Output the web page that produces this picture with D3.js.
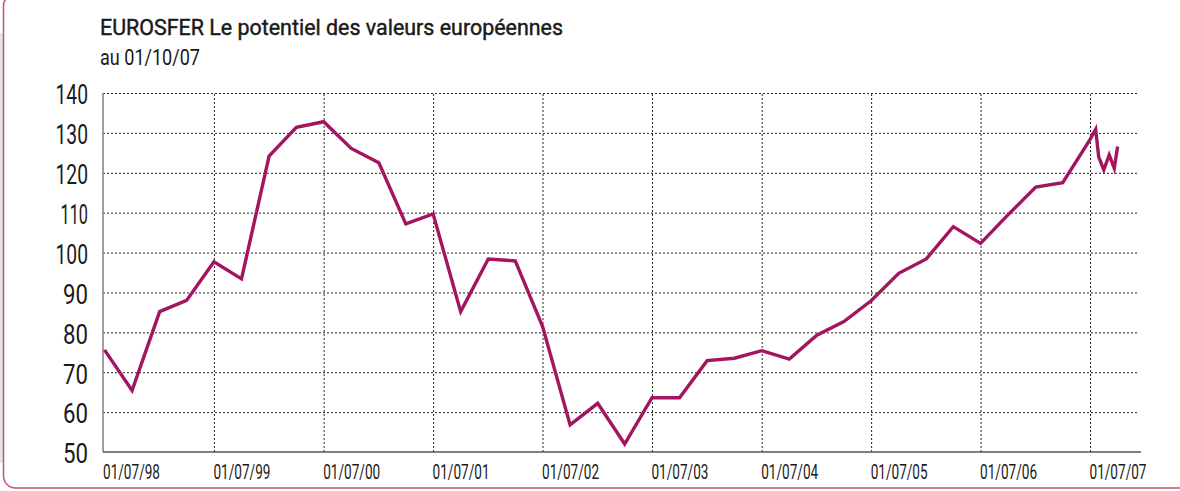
<!DOCTYPE html>
<html>
<head>
<meta charset="utf-8">
<script src="https://cdn.jsdelivr.net/npm/d3@7"></script>
<style>
  html, body { margin: 0; padding: 0; background: #fff; }
  svg { display: block; }
  .cond { font-family: Roboto, "DejaVu Sans Condensed", sans-serif; }
</style>
</head>
<body>
<svg id="chart" width="1180" height="491"></svg>
<script>
// quarterly values, then the tighter points of summer 2007
const dates = [
  "1998-07-01", "1998-10-01", "1999-01-01", "1999-04-01",
  "1999-07-01", "1999-10-01", "2000-01-01", "2000-04-01",
  "2000-07-01", "2000-10-01", "2001-01-01", "2001-04-01",
  "2001-07-01", "2001-10-01", "2002-01-01", "2002-04-01",
  "2002-07-01", "2002-10-01", "2003-01-01", "2003-04-01",
  "2003-07-01", "2003-10-01", "2004-01-01", "2004-04-01",
  "2004-07-01", "2004-10-01", "2005-01-01", "2005-04-01",
  "2005-07-01", "2005-10-01", "2006-01-01", "2006-04-01",
  "2006-07-01", "2006-10-01", "2007-01-01", "2007-04-01",
  "2007-07-01", "2007-07-20", "2007-07-30", "2007-08-16",
  "2007-09-03", "2007-09-20", "2007-10-01"
];
const values = [
  75.6, 65.4, 85.2, 88.0,
  97.7, 93.4, 124.2, 131.4,
  132.8, 126.1, 122.5, 107.2,
  109.7, 85.2, 98.4, 97.9,
  81.5, 56.8, 62.2, 52.0,
  63.6, 63.6, 72.9, 73.5,
  75.4, 73.3, 79.3, 82.7,
  87.9, 94.8, 98.4, 106.5,
  102.3, 109.5, 116.4, 117.5,
  128.3, 130.9, 124.0, 120.7,
  124.5, 121.1, 126.6
];
const yTicks = [50, 60, 70, 80, 90, 100, 110, 120, 130, 140];
const xTicks = ["1998-07-01", "1999-07-01", "2000-07-01", "2001-07-01", "2002-07-01",
                "2003-07-01", "2004-07-01", "2005-07-01", "2006-07-01", "2007-07-01"];
const title = "EUROSFER Le potentiel des valeurs européennes";
const subtitle = "au 01/10/07";

const parse = d3.timeParse("%Y-%m-%d");
const fmt = d3.timeFormat("%d/%m/%y");
const data = dates.map((d, i) => ({ date: parse(d), value: values[i] }));

const svg = d3.select("#chart");
const plotLeft = 103, plotRight = 1138, plotTop = 93, plotBottom = 452;

const x = d3.scaleTime()
  .domain([parse("1998-07-01"), parse("2007-07-01")])
  .range([104.5, 1090]);
const y = d3.scaleLinear().domain([50, 140]).range([plotBottom, plotTop]);

// narrow face: the "1" is thinner than the other digits
const numWidth = s => d3.sum(s.split(""), c => c === "1" ? 7.5 : 12.5);

// frame on the left
svg.append("rect")
  .attr("x", 0).attr("y", 33).attr("width", 3).attr("height", 430)
  .attr("fill", "#e4e3ea");
svg.append("rect")
  .attr("x", 3.5).attr("y", -6).attr("width", 1300).attr("height", 494)
  .attr("rx", 12).attr("fill", "none")
  .attr("stroke", "#c8507a").attr("stroke-width", 1.5);

// titles
svg.append("text").attr("class", "cond")
  .attr("x", 100).attr("y", 35)
  .attr("font-size", 22.5).attr("fill", "#1a1a1a")
  .attr("stroke", "#1a1a1a").attr("stroke-width", 0.45)
  .attr("textLength", 463).attr("lengthAdjust", "spacingAndGlyphs")
  .text(title);
svg.append("text").attr("class", "cond")
  .attr("x", 100).attr("y", 65)
  .attr("font-size", 22).attr("fill", "#1a1a1a")
  .attr("textLength", 100).attr("lengthAdjust", "spacingAndGlyphs")
  .text(subtitle);

// horizontal grid
const yGrid = svg.append("g")
  .attr("transform", `translate(${plotLeft},0)`)
  .call(d3.axisLeft(y).tickValues(yTicks.filter(v => v > 50))
    .tickSize(-(plotRight - plotLeft)).tickFormat(""));
yGrid.select(".domain").remove();
yGrid.selectAll(".tick line")
  .attr("stroke", "#222").attr("stroke-width", 1).attr("stroke-dasharray", "2,2");

// vertical grid
const xGrid = svg.append("g")
  .attr("transform", `translate(0,${plotBottom})`)
  .call(d3.axisBottom(x).tickValues(xTicks.slice(1).map(parse))
    .tickSize(-(plotBottom - plotTop)).tickFormat(""));
xGrid.select(".domain").remove();
xGrid.selectAll(".tick line")
  .attr("stroke", "#222").attr("stroke-width", 1).attr("stroke-dasharray", "2,2");

// y labels
const yAxis = svg.append("g")
  .attr("transform", `translate(${plotLeft},0)`)
  .call(d3.axisLeft(y).tickValues(yTicks).tickSize(0).tickPadding(15));
yAxis.select(".domain").remove();
yAxis.selectAll("text")
  .attr("class", "cond").attr("font-size", 27).attr("fill", "#1a1a1a")
  .attr("dy", "0.4em")
  .attr("textLength", d => numWidth(String(d)))
  .attr("lengthAdjust", "spacingAndGlyphs");

// x labels
const xAxis = svg.append("g")
  .attr("transform", `translate(0,${plotBottom})`)
  .call(d3.axisBottom(x).tickValues(xTicks.map(parse)).tickSize(0).tickFormat(fmt));
xAxis.select(".domain").remove();
xAxis.selectAll("text")
  .attr("class", "cond").attr("font-size", 19.5).attr("fill", "#1a1a1a")
  .attr("text-anchor", "start").attr("y", 27).attr("dy", 0)
  .attr("dx", (d, i) => i === 0 ? -2 : -1)
  .attr("textLength", 57).attr("lengthAdjust", "spacingAndGlyphs");

// axis lines
svg.append("line")
  .attr("x1", plotLeft).attr("x2", plotLeft).attr("y1", plotTop).attr("y2", plotBottom)
  .attr("stroke", "#808080").attr("stroke-width", 1.5);
svg.append("line")
  .attr("x1", plotLeft).attr("x2", plotRight + 3).attr("y1", plotBottom).attr("y2", plotBottom)
  .attr("stroke", "#555").attr("stroke-width", 1.5);

// series
const line = d3.line().x(d => x(d.date)).y(d => y(d.value));
svg.append("path")
  .datum(data)
  .attr("d", line)
  .attr("fill", "none")
  .attr("stroke", "#a3155f")
  .attr("stroke-width", 3.4)
  .attr("stroke-linejoin", "miter");
</script>
</body>
</html>
